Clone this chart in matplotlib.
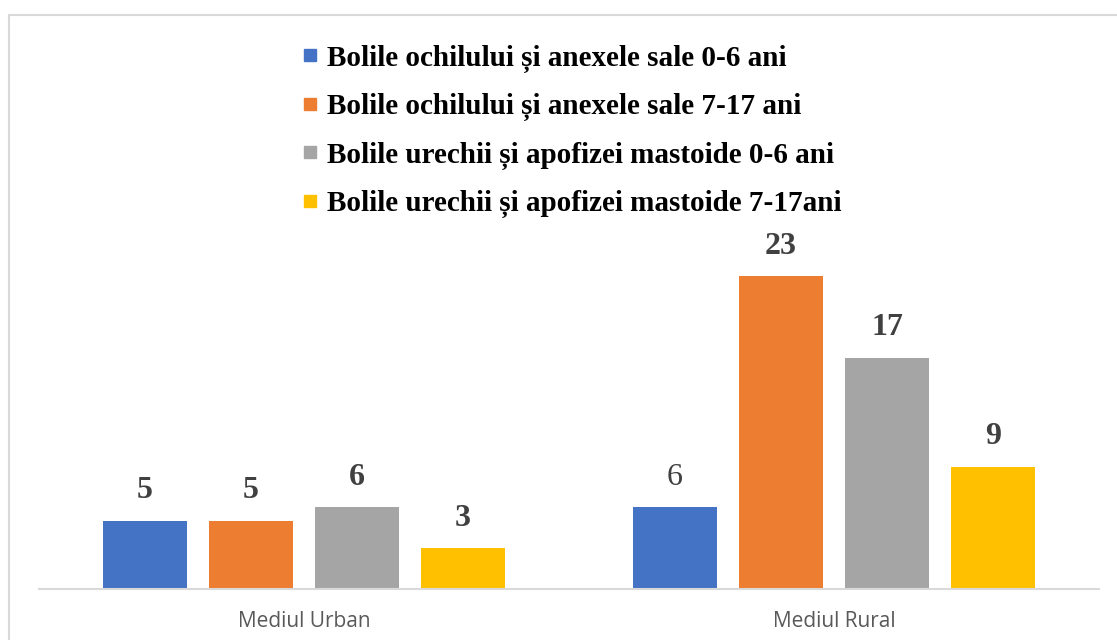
import matplotlib
matplotlib.use('Agg')
import numpy as np
import matplotlib.pyplot as plt
from matplotlib.lines import Line2D
from matplotlib.patches import Rectangle

categories = ['Mediul Urban', 'Mediul Rural']
series_names = ['Bolile ochilului și anexele sale 0-6 ani',
                'Bolile ochilului și anexele sale 7-17 ani',
                'Bolile urechii și apofizei mastoide 0-6 ani',
                'Bolile urechii și apofizei mastoide 7-17ani']
ochi_0_6 = [5, 6]
ochi_7_17 = [5, 23]
ureche_0_6 = [6, 17]
ureche_7_17 = [3, 9]
values = [ochi_0_6, ochi_7_17, ureche_0_6, ureche_7_17]
colors = ['#4472c4', '#ed7d31', '#a5a5a5', '#ffc000']

fig = plt.figure(figsize=(11.17, 6.4), dpi=100)
ax = fig.add_axes([0.0349, 0.0797, 0.949, 0.53125])

x = np.arange(len(categories))
offsets = [-0.3, -0.1, 0.1, 0.3]
for i in range(4):
    bars = ax.bar(x + offsets[i], values[i], width=0.1585, color=colors[i])
    for j, b in enumerate(bars):
        # rural 0-6 label is not bold in the original
        w = 'normal' if (i == 0 and j == 1) else 'bold'
        ax.annotate(str(values[i][j]), (b.get_x() + b.get_width() / 2, b.get_height()),
                    xytext=(0, 30), textcoords='offset pixels', ha='center', va='center',
                    fontsize=23, fontweight=w, family='Liberation Serif', color='#404040',
                    annotation_clip=False)

ax.set_xlim(-0.5, 1.5)
ax.set_ylim(0, 25)
ax.set_xticks(x)
ax.set_xticklabels(categories, family='Open Sans', fontsize=15, color='#595959')
ax.tick_params(axis='x', length=0, pad=16)
ax.set_yticks([])
for s in ['top', 'left', 'right']:
    ax.spines[s].set_visible(False)
ax.spines['bottom'].set_color('#d9d9d9')
ax.spines['bottom'].set_linewidth(1.5)

handles = [Line2D([], [], marker='s', linestyle='none', markersize=9,
                  markerfacecolor=c, markeredgecolor=c) for c in colors]
fig.legend(handles, series_names, loc='upper left', bbox_to_anchor=(0.2575, 0.953),
           frameon=False, prop={'family': 'Liberation Serif', 'weight': 'bold', 'size': 21},
           handlelength=0.55, handletextpad=0.3, labelspacing=0.7, borderpad=0)

fig.patches.append(Rectangle((0.0085, -0.02), 1.2, 0.997, transform=fig.transFigure,
                             fill=False, edgecolor='#d9d9d9', linewidth=1.5))

fig.savefig('out.png', dpi=100)
